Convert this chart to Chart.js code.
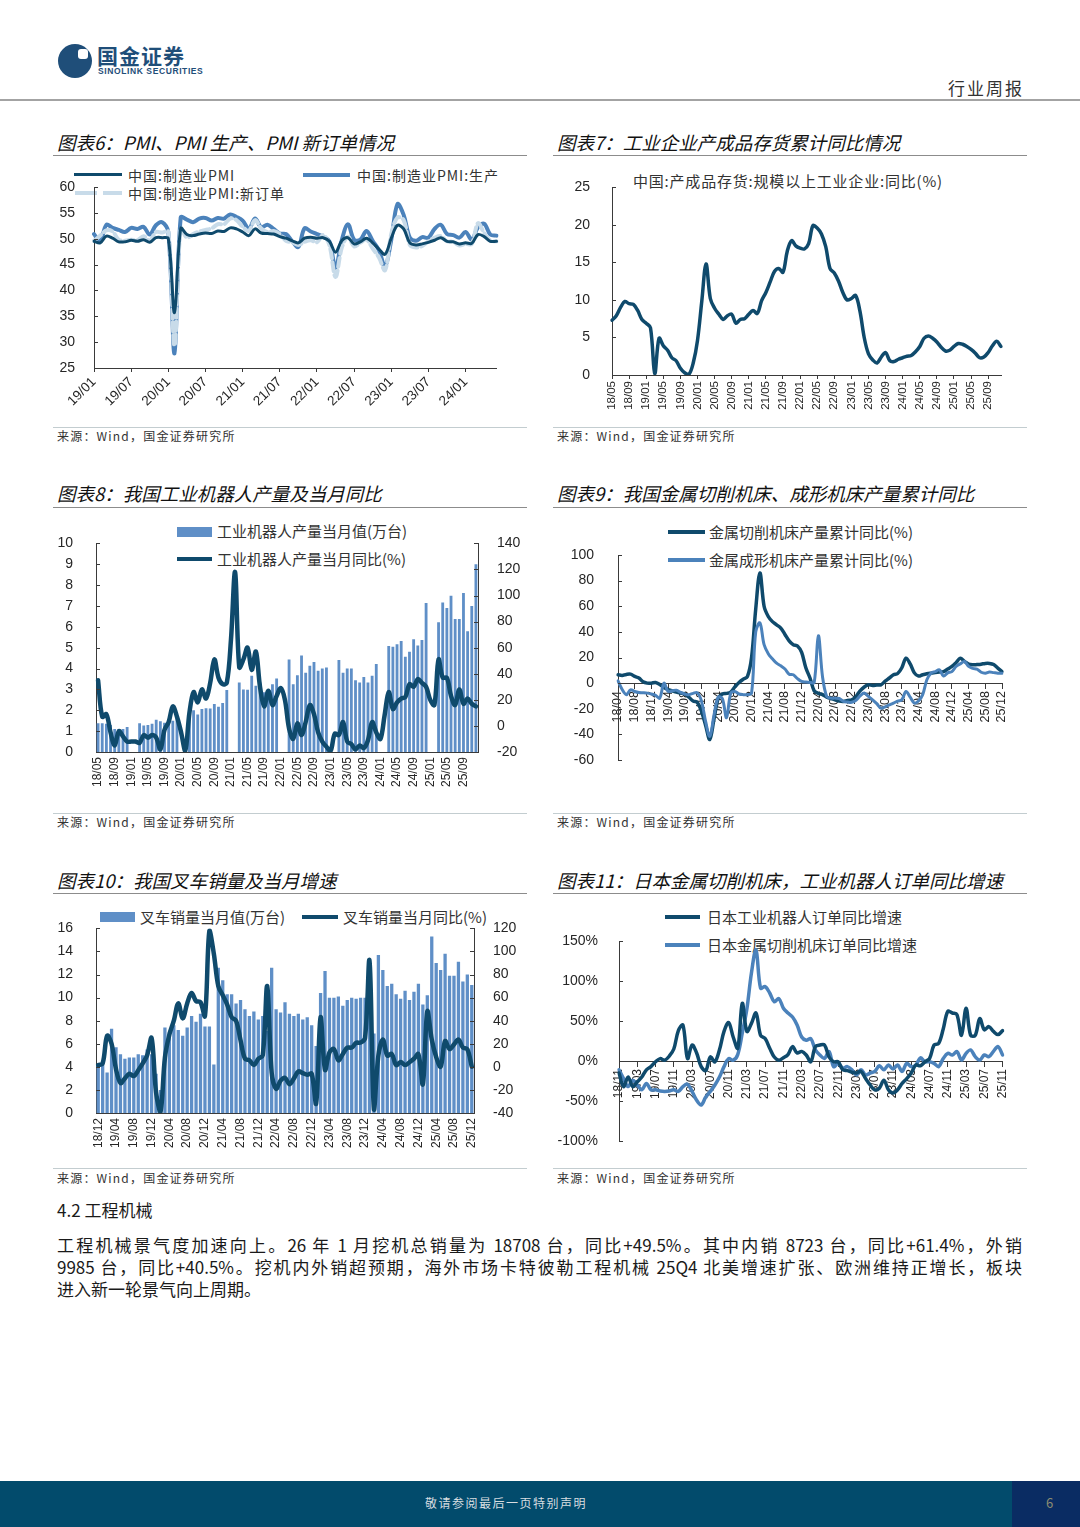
<!DOCTYPE html>
<html lang="zh-CN">
<head>
<meta charset="utf-8">
<title>行业周报</title>
<script src="https://cdn.jsdelivr.net/npm/chart.js@4.4.1/dist/chart.umd.min.js"></script>
<style>
  html, body { margin: 0; padding: 0; background: #fff; }
  body { width: 1080px; height: 1527px; position: relative; overflow: hidden;
         font-family: "Noto Sans CJK SC", "Noto Sans", sans-serif; color: #222; }
  .abs { position: absolute; white-space: nowrap; }
  canvas { position: absolute; }
  .title { font-size: 18.5px; font-style: italic; line-height: 22px; color: #111; }
  .rule { position: absolute; height: 0; width: 474px; border-top: 1.5px solid #8c8c8c; }
  .src-rule { position: absolute; height: 0; width: 474px; border-top: 1px solid #c3cdd0; }
  .src { font-size: 12px; line-height: 14px; color: #333; letter-spacing: 1.2px; }
  .lg { font-size: 15px; line-height: 18px; color: #333; }
  .sw { position: absolute; }
  .para { position: absolute; left: 57px; width: 965px; font-size: 17px; line-height: 22px; color: #1a1a1a; white-space: nowrap; }
  .just { text-align: justify; text-align-last: justify; white-space: normal; }
</style>
</head>
<body>

<!-- header -->
<div class="abs" style="left:58px;top:44px;width:34px;height:34px;border-radius:50%;background:#1f4e79;"></div>
<div class="abs" style="left:78px;top:49px;width:10px;height:10px;border-radius:3px;background:#fff;"></div>
<div class="abs" style="left:97px;top:43px;font-size:21px;line-height:24px;font-weight:bold;color:#1f4e79;letter-spacing:1px;">国金证券</div>
<div class="abs" style="left:98px;top:66px;font-family:'Liberation Sans',Arial,sans-serif;font-size:8.5px;line-height:10px;font-weight:bold;color:#1f4e79;letter-spacing:0.6px;">SINOLINK SECURITIES</div>
<div class="abs" style="left:948px;top:78px;font-size:17px;line-height:20px;letter-spacing:2px;color:#333;">行业周报</div>
<div class="abs" style="left:0;top:99px;width:1080px;height:2px;background:#a3a3a3;"></div>

<!-- titles -->
<div class="abs title" style="left:57px;top:131px;">图表6：PMI、PMI 生产、PMI 新订单情况</div>
<div class="abs title" style="left:557px;top:131px;">图表7：工业企业产成品存货累计同比情况</div>
<div class="rule" style="left:53px;top:155px;"></div>
<div class="rule" style="left:553px;top:155px;"></div>

<div class="abs title" style="left:57px;top:482px;">图表8：我国工业机器人产量及当月同比</div>
<div class="abs title" style="left:557px;top:482px;">图表9：我国金属切削机床、成形机床产量累计同比</div>
<div class="rule" style="left:53px;top:507px;"></div>
<div class="rule" style="left:553px;top:507px;"></div>

<div class="abs title" style="left:57px;top:869px;">图表10：我国叉车销量及当月增速</div>
<div class="abs title" style="left:557px;top:869px;">图表11：日本金属切削机床，工业机器人订单同比增速</div>
<div class="rule" style="left:53px;top:893px;"></div>
<div class="rule" style="left:553px;top:893px;"></div>

<!-- sources -->
<div class="src-rule" style="left:53px;top:427px;"></div>
<div class="src-rule" style="left:553px;top:427px;"></div>
<div class="abs src" style="left:57px;top:429px;">来源：Wind，国金证券研究所</div>
<div class="abs src" style="left:557px;top:429px;">来源：Wind，国金证券研究所</div>
<div class="src-rule" style="left:53px;top:813px;"></div>
<div class="src-rule" style="left:553px;top:813px;"></div>
<div class="abs src" style="left:57px;top:815px;">来源：Wind，国金证券研究所</div>
<div class="abs src" style="left:557px;top:815px;">来源：Wind，国金证券研究所</div>
<div class="src-rule" style="left:53px;top:1168px;"></div>
<div class="src-rule" style="left:553px;top:1168px;"></div>
<div class="abs src" style="left:57px;top:1171px;">来源：Wind，国金证券研究所</div>
<div class="abs src" style="left:557px;top:1171px;">来源：Wind，国金证券研究所</div>

<!-- legends (under the canvases, lines pass over them) -->
<div class="sw" style="left:74px;top:173px;width:48px;height:3px;background:#0f4a6c;"></div>
<div class="abs lg" style="left:128px;top:166px;font-size:14px;letter-spacing:1px;">中国:制造业PMI</div>
<div class="sw" style="left:303px;top:173px;width:47px;height:4px;background:#4b82bb;"></div>
<div class="abs lg" style="left:357px;top:166px;font-size:14px;letter-spacing:1px;">中国:制造业PMI:生产</div>
<div class="sw" style="left:75px;top:191px;width:47px;height:4px;background:repeating-linear-gradient(90deg,#c8dbe9 0 22px,transparent 22px 28px);"></div>
<div class="abs lg" style="left:128px;top:184px;font-size:14px;letter-spacing:1px;">中国:制造业PMI:新订单</div>

<div class="abs lg" style="left:633px;top:172px;letter-spacing:0.8px;">中国:产成品存货:规模以上工业企业:同比(%)</div>

<div class="sw" style="left:177px;top:527px;width:35px;height:10px;background:#5f8fc7;"></div>
<div class="abs lg" style="left:217px;top:522px;">工业机器人产量当月值(万台)</div>
<div class="sw" style="left:177px;top:557px;width:35px;height:4px;background:#0f4a6c;"></div>
<div class="abs lg" style="left:217px;top:550px;">工业机器人产量当月同比(%)</div>

<div class="sw" style="left:668px;top:530px;width:37px;height:4px;background:#0f4a6c;"></div>
<div class="abs lg" style="left:709px;top:523px;">金属切削机床产量累计同比(%)</div>
<div class="sw" style="left:668px;top:558px;width:37px;height:4px;background:#4b82bb;"></div>
<div class="abs lg" style="left:709px;top:551px;">金属成形机床产量累计同比(%)</div>

<div class="sw" style="left:100px;top:912px;width:35px;height:10px;background:#5f8fc7;"></div>
<div class="abs lg" style="left:140px;top:908px;">叉车销量当月值(万台)</div>
<div class="sw" style="left:302px;top:915px;width:36px;height:4px;background:#0f4a6c;"></div>
<div class="abs lg" style="left:343px;top:908px;">叉车销量当月同比(%)</div>

<div class="sw" style="left:665px;top:915px;width:35px;height:4px;background:#0f4a6c;"></div>
<div class="abs lg" style="left:707px;top:908px;">日本工业机器人订单同比增速</div>
<div class="sw" style="left:665px;top:943px;width:35px;height:4px;background:#4b82bb;"></div>
<div class="abs lg" style="left:707px;top:936px;">日本金属切削机床订单同比增速</div>

<!-- charts -->
<canvas id="c6" width="460" height="257" style="left:50px;top:165px;"></canvas>
<canvas id="c7" width="470" height="257" style="left:550px;top:165px;"></canvas>
<canvas id="c8" width="470" height="290" style="left:50px;top:520px;"></canvas>
<canvas id="c9" width="470" height="290" style="left:550px;top:520px;"></canvas>
<canvas id="c10" width="470" height="262" style="left:50px;top:905px;"></canvas>
<canvas id="c11" width="470" height="262" style="left:550px;top:905px;"></canvas>

<!-- text section -->
<div class="abs" style="left:57px;top:1199px;font-size:17px;line-height:22px;color:#1a1a1a;">4.2 工程机械</div>
<div class="para just" style="top:1234px;">工程机械景气度加速向上。26 年 1 月挖机总销量为 18708 台，同比+49.5%。其中内销 8723 台，同比+61.4%，外销</div>
<div class="para just" style="top:1256px;">9985 台，同比+40.5%。挖机内外销超预期，海外市场卡特彼勒工程机械 25Q4 北美增速扩张、欧洲维持正增长，板块</div>
<div class="para" style="top:1278px;">进入新一轮景气向上周期。</div>

<!-- footer -->
<div class="abs" style="left:0;top:1481px;width:1080px;height:46px;background:#024b6c;"></div>
<div class="abs" style="left:1012px;top:1481px;width:68px;height:46px;background:#0a2c63;"></div>
<div class="abs" style="left:0;top:1494px;width:1012px;text-align:center;font-size:12px;line-height:18px;letter-spacing:1.5px;color:#d8dde0;">敬请参阅最后一页特别声明</div>
<div class="abs" style="left:1046px;top:1494px;font-size:13px;line-height:18px;color:#8c8c72;">6</div>

<script>
// ---------- data ----------
// 图表6 PMI (19/01 - 24/06)
const pmiTicks = ['19/01','19/07','20/01','20/07','21/01','21/07','22/01','22/07','23/01','23/07','24/01'];
const pmiMain = [49.5,49.2,50.5,50.1,49.4,49.4,49.7,49.5,49.8,49.3,50.2,50.2,
  50.0,35.7,52.0,50.8,50.6,50.9,51.1,51.0,51.5,51.4,52.1,51.9,
  51.3,50.6,51.9,51.1,51.0,50.9,50.4,50.1,49.6,49.2,50.1,50.3,
  50.1,50.2,49.5,47.4,49.6,50.2,49.0,49.4,50.1,49.2,48.0,47.0,
  50.1,52.6,51.9,49.2,48.8,49.0,49.3,49.7,50.2,49.5,49.4,49.0,
  49.2,49.1,50.8,50.4,49.5,49.5];
const pmiOutput = [50.9,49.5,52.7,52.1,51.7,51.3,52.1,51.9,52.3,50.8,52.6,53.2,
  51.3,27.8,54.1,53.7,53.2,53.9,54.0,53.5,54.0,53.9,54.7,54.2,
  53.5,51.9,53.9,52.2,52.7,51.9,51.0,50.9,49.5,48.4,52.0,51.4,
  50.9,50.4,49.5,44.4,49.7,52.8,49.8,49.8,51.5,49.6,47.8,44.6,
  49.8,56.7,54.6,50.2,49.6,50.3,50.2,51.9,52.7,50.9,50.7,50.2,
  51.3,49.8,52.2,52.9,50.8,50.6];
const pmiNewOrders = [49.6,50.6,51.6,51.4,49.8,49.6,49.8,49.7,50.5,49.6,51.3,51.2,
  51.4,29.3,52.0,50.2,50.9,51.4,51.7,52.0,52.8,52.8,53.9,53.6,
  52.3,51.5,53.6,52.0,51.3,51.5,50.9,49.6,49.3,48.8,49.4,49.7,
  49.3,50.7,48.8,42.6,48.2,50.4,48.5,49.2,49.8,48.1,46.4,43.9,
  50.9,54.1,53.6,48.8,48.3,48.6,49.5,50.2,50.5,49.5,49.4,48.7,
  49.0,49.0,53.0,51.1,49.6,49.5];

// 图表7 产成品存货同比 (18/05 - 25/12)
const invTicks = ['18/05','18/09','19/01','19/05','19/09','20/01','20/05','20/09','21/01','21/05','21/09','22/01',
  '22/05','22/09','23/01','23/05','23/09','24/01','24/05','24/09','25/01','25/05','25/09'];
const invYoy = [7.3,7.9,9.0,9.8,9.5,9.4,8.6,7.4,6.9,6.3,
  0.2,4.9,3.9,3.3,2.3,1.9,0.9,0.3,0.1,1.6,
  4.6,9.8,14.8,10.2,8.9,8.1,7.4,7.9,8.1,6.9,
  7.4,7.5,8.1,8.6,8.2,9.9,11.0,12.4,13.8,14.2,
  13.7,16.5,17.9,17.2,16.9,16.8,17.5,19.9,19.6,18.8,
  17.1,14.2,13.6,12.5,11.0,10.0,10.2,10.6,8.5,5.0,
  2.8,2.0,1.6,2.4,3.0,1.9,1.8,2.1,2.3,2.5,
  2.6,3.1,3.8,4.9,5.2,4.9,4.4,3.7,3.2,3.3,
  3.8,4.2,4.1,3.8,3.4,2.9,2.3,2.4,3.0,3.9,
  4.5,3.8];

// 图表8 工业机器人 (18/05 - 25/12)
const robotTicks = invTicks;
const robotOutput = [1.38,1.38,1.36,1.3,1.1,1.1,1.1,1.2,null,null,
  1.38,1.27,1.3,1.35,1.55,1.48,1.4,1.42,1.5,1.62,null,null,
  1.8,2.0,1.8,2.06,2.1,2.08,2.3,2.17,2.35,2.97,null,null,
  3.33,3.0,2.98,3.65,3.17,3.33,2.86,2.9,3.25,3.52,null,null,
  4.44,3.25,3.68,4.63,3.8,4.13,4.32,3.9,4.0,4.05,null,null,
  4.41,3.8,4.0,4.0,3.44,3.33,3.6,3.33,3.65,4.22,null,null,
  5.08,5.05,5.16,5.32,4.57,4.81,5.4,5.1,5.37,7.14,null,null,
  6.22,7.17,6.9,7.49,6.38,6.38,7.62,5.79,7.0,9.0];
const robotYoy = [35,7,9,-5,-15,-4,-8,-12,-12,-12,
  -13,-7,-9,-7,-9,-18,-3,3,15,7,
  -5,-19,10,26,18,28,21,33,51,37,
  32,33,66,118,45,51,60,43,57,30,
  15,27,16,23,29,20,-2,-10,2,-7,
  3,16,9,-5,-12,-16,-19,-6,-7,3,
  -12,-14,-18,-15,-17,-11,3,-5,-10,8,
  26,13,18,21,22,32,30,36,33,30,
  20,16,51,37,37,23,16,28,17,21,
  17,15];

// 图表9 金属切削/成形机床累计同比 (18/04 - 25/12)
const toolTicks = ['18/04','18/08','18/12','19/04','19/08','19/12','20/04','20/08','20/12','21/04','21/08','21/12',
  '22/04','22/08','22/12','23/04','23/08','23/12','24/04','24/08','24/12','25/04','25/08','25/12'];
const cuttingYoy = [6.5,6,6.8,7,5.2,4,1,0,0,0.5,
  -1,-3.5,-5,-6,-7,-7.8,-8.5,-11,-14,-15,
  -22,-33,-44,-28,-12,-8.5,-8,-7,-3,0.5,
  3,5,20,58,86,60,52,48,45.5,43,
  38,33,30,29,24,12,4,-6,-8,-9,
  -11,-12,-13,-14,-14.3,-13.5,-13,-10.5,-6,-3,
  -1.3,-1.8,-1.5,-1.3,1.5,4,6.5,7.5,12,19.5,
  15,8,5.5,6.5,7.3,7.8,8.2,8.6,9,11,
  13,16,19.5,17,14.8,14.3,14.5,14.8,15.4,15.4,
  14.5,11.7,9];
const formingYoy = [1.8,-5,-9,-5.2,-6.5,-7.3,-7.5,-7.8,-8.5,-9.5,
  -11.7,0,-6.5,-6,-5.5,-7.3,-8.5,-9,-8,-7.5,
  -14,-30,-41.6,-25,-11,-12,-27,-8,-6.5,-8.5,
  -9,-9,-7.8,40,47,30,23,19,15.6,13.5,
  11,7,6.5,3.5,1.3,0.8,0.5,0.5,37,5,
  -10.4,-11.7,-11.7,-12,-14.3,-14.8,-15,-13.5,-10,-7.8,
  -10.4,-13,-16,-19.5,-18.5,-17,-15.6,-14,-13,-6.5,
  -11,-15.6,-14,-9,2.6,7.8,9,10.4,5.5,8,
  9,13,15,16.9,13,11.5,10.9,8.5,7.8,8.6,
  8.2,7.8,7.8];

// 图表10 叉车 (18/12 - 25/12)
const forkTicks = ['18/12','19/04','19/08','19/12','20/04','20/08','20/12','21/04','21/08','21/12','22/04','22/08',
  '22/12','23/04','23/08','23/12','24/04','24/08','24/12','25/04','25/08','25/12'];
const forkSales = [4.1,4.2,3.5,7.3,5.7,5.1,4.7,4.8,4.8,5.1,
  5.0,5.5,5.1,3.4,2.0,7.4,7.0,7.6,7.2,6.7,
  7.4,8.4,7.9,8.6,7.5,7.5,4.2,12.6,11.5,10.3,
  10.3,9.5,9.8,9.0,8.4,8.8,8.1,8.4,7.1,12.6,
  9.0,8.7,9.6,8.6,8.4,8.6,8.1,8.3,7.6,5.8,
  10.4,12.3,10.0,10.0,10.1,9.3,9.8,10.0,9.9,10.0,
  10.0,11.1,6.9,13.7,12.4,11.0,11.2,10.3,9.9,10.6,
  9.8,10.5,11.2,9.4,10.2,15.3,13.0,12.4,13.8,11.9,
  11.9,13.1,11.4,12.0,11.1];
const forkYoy = [1.5,3,27,20,-2,-14,-10,-6,-8,-3,
  3,10,25,-22,-39,8,28,40,55,42,
  55,64,57,56,44,118,98,70,62,54,
  43,40,23,7,5.7,1.5,7,10,70,-5,
  -19,-12,-9.5,-15,-10,-4,-5.4,-6.8,-6,-31.7,
  43,-2.6,12.6,15.4,5.7,11.2,16.7,16.7,20.9,21,
  25,92,-37,9.8,23.7,9.8,11.2,1.5,4.3,1.5,
  4,7,11,-15,48,23.7,8.4,0.1,22.3,15.4,
  19.5,23.7,16.7,15.4,0.1];

// 图表11 日本订单同比 (18/11 - 25/11)
const japanTicks = ['18/11','19/03','19/07','19/11','20/03','20/07','20/11','21/03','21/07','21/11','22/03','22/07',
  '22/11','23/03','23/07','23/11','24/03','24/07','24/11','25/03','25/07','25/11'];
const jpRobotYoy = [-15,-32,-20,-32,-26,-20,-11,-7,-1,3,
  1,6,15,38,45,3,20,10,-7,-12,
  5,-1,14,37,48,30,16,72,37,47,
  60,32,28,16,5,1,4,8,18,10,
  12,7.5,-1,18,20,20,5,-1,-1,-11,
  -12,-14,-15,-13,-22,-30,-36,-34,-24,-36,
  -40,-36,-28,-22,-15,-5,-6,-1,3,20,
  22,40,62,60,58,32,66,32,32,53,
  39,43,37,33,38];
const jpToolYoy = [-11,-22,-32,-24,-30,-36,-28,-36,-36,-37.5,
  -38,-37.5,-36,-38,-32,-29,-38,-49,-55,-45,
  -38,-30,-20,-7,3,1,8,35,65,110,
  139,91,93,85,74,78,66,60,55,45,
  30,26,28,14,7.5,3.3,11.7,-7,-3,-9,
  -7,-11,-17.5,-11,-17.5,-15,-13,-6,-11,-5,
  -10,-5,-13,-3,-7,-5,4,-1,-1,-3,
  -7,3,9.6,7.5,11.7,1.2,9.6,13.8,5.4,1.2,
  7.5,5.4,12,18,7.5];

// ---------- helpers ----------
const SANS = '"Liberation Sans", Arial, "Noto Sans", sans-serif';
const DARK = '#0f4a6c', MID = '#4b82bb', LIGHT = '#c8dbe9', BAR = '#5f8fc7';
const AXIS = '#3a3a3a', TXT = '#262626';

function monthLabels(start, n) {
  let [y, m] = start.split('/').map(Number);
  const out = [];
  for (let i = 0; i < n; i++) {
    out.push(String(y).padStart(2, '0') + '/' + String(m).padStart(2, '0'));
    m++;
    if (m > 12) { m = 1; y++; }
  }
  return out;
}

// small inward tick marks on the value axes
const innerTicks = {
  id: 'innerTicks',
  afterDraw(chart) {
    const ctx = chart.ctx;
    Object.values(chart.scales).forEach(s => {
      if (s.axis !== 'y') return;
      const right = s.position === 'right';
      const x0 = right ? s.left : s.right;
      const dir = right ? -1 : 1;
      ctx.save();
      ctx.strokeStyle = AXIS;
      ctx.lineWidth = 1;
      s.ticks.forEach(t => {
        const y = Math.round(s.getPixelForValue(t.value)) + 0.5;
        ctx.beginPath();
        ctx.moveTo(x0, y);
        ctx.lineTo(x0 + dir * 4, y);
        ctx.stroke();
      });
      ctx.restore();
    });
  }
};

function xCat(labels, shown, o) {
  return {
    type: 'category',
    offset: o.offset,
    position: o.position || 'bottom',
    border: { display: true, color: AXIS, width: 1 },
    grid: {
      offset: false, drawOnChartArea: false, drawTicks: true, tickLength: o.tick || 4,
      color: c => shown.includes(labels[c.index]) ? AXIS : 'rgba(0,0,0,0)'
    },
    ticks: {
      autoSkip: false, minRotation: o.rot, maxRotation: o.rot, padding: o.pad || 2,
      color: TXT, font: { family: SANS, size: o.size || 12 },
      callback: (v, i) => shown.includes(labels[i]) ? labels[i] : ''
    },
    afterFit: s => { if (o.h) s.height = o.h; }
  };
}

function yLin(o) {
  return {
    type: 'linear',
    position: o.position || 'left',
    min: o.min, max: o.max,
    border: { display: true, color: AXIS, width: 1 },
    grid: { display: false },
    ticks: {
      stepSize: o.step, padding: o.pad, color: TXT,
      font: { family: SANS, size: 14 },
      callback: o.cb || (v => v)
    },
    afterFit: s => { s.width = o.w; }
  };
}

function opts(pad, scales) {
  return {
    responsive: false,
    animation: false,
    layout: { padding: Object.assign({ top: 0, right: 0, bottom: 0, left: 0 }, pad), autoPadding: false },
    elements: {
      point: { radius: 0, hoverRadius: 0 },
      line: { tension: 0.35, borderCapStyle: 'round', borderJoinStyle: 'round' }
    },
    plugins: { legend: { display: false }, tooltip: { enabled: false } },
    scales
  };
}

// ---------- 图表6 ----------
const pmiMonths = monthLabels('19/01', pmiMain.length);
new Chart(document.getElementById('c6'), {
  type: 'line',
  data: {
    labels: pmiMonths,
    datasets: [
      { label: '中国:制造业PMI', data: pmiMain, borderColor: DARK, borderWidth: 3, order: 1 },
      { label: '中国:制造业PMI:新订单', data: pmiNewOrders, borderColor: LIGHT, borderWidth: 4, borderDash: [9, 4], order: 2 },
      { label: '中国:制造业PMI:生产', data: pmiOutput, borderColor: MID, borderWidth: 4, order: 3 }
    ]
  },
  options: opts({ top: 22, right: 10 }, {
    x: xCat(pmiMonths, pmiTicks, { offset: false, rot: 45, size: 13.5, h: 54 }),
    y: yLin({ min: 25, max: 60, step: 5, w: 44, pad: 11 })
  }),
  plugins: [innerTicks]
});

// ---------- 图表7 ----------
const invMonths = monthLabels('18/05', invYoy.length);
new Chart(document.getElementById('c7'), {
  type: 'line',
  data: {
    labels: invMonths,
    datasets: [
      { label: '中国:产成品存货:规模以上工业企业:同比(%)', data: invYoy, borderColor: DARK, borderWidth: 3.5 }
    ]
  },
  options: opts({ top: 16, right: 19 }, {
    x: xCat(invMonths, invTicks, { offset: false, rot: 90, size: 11.5, h: 47, pad: 2 }),
    y: yLin({ min: 0, max: 25, step: 5, w: 62, pad: 14 })
  }),
  plugins: [innerTicks]
});

// ---------- 图表8 ----------
const robotMonths = monthLabels('18/05', robotOutput.length);
new Chart(document.getElementById('c8'), {
  type: 'bar',
  data: {
    labels: robotMonths,
    datasets: [
      { type: 'line', label: '工业机器人产量当月同比(%)', data: robotYoy, yAxisID: 'y1',
        borderColor: DARK, borderWidth: 4.5, order: 1 },
      { type: 'bar', label: '工业机器人产量当月值(万台)', data: robotOutput, yAxisID: 'y',
        backgroundColor: BAR, barPercentage: 0.68, categoryPercentage: 1, order: 2 }
    ]
  },
  options: opts({ top: 22 }, {
    x: xCat(robotMonths, robotTicks, { offset: true, rot: 90, size: 12, h: 58, tick: 1, pad: 4 }),
    y: yLin({ min: 0, max: 10, step: 1, w: 46, pad: 15 }),
    y1: yLin({ position: 'right', min: -20, max: 140, step: 20, w: 42, pad: 11 })
  }),
  plugins: [innerTicks]
});

// ---------- 图表9 ----------
const toolMonths = monthLabels('18/04', cuttingYoy.length);
new Chart(document.getElementById('c9'), {
  type: 'line',
  data: {
    labels: toolMonths,
    datasets: [
      { label: '金属切削机床产量累计同比(%)', data: cuttingYoy, borderColor: DARK, borderWidth: 3.5, order: 2 },
      { label: '金属成形机床产量累计同比(%)', data: formingYoy, borderColor: MID, borderWidth: 3, order: 1 }
    ]
  },
  options: opts({ top: 35, right: 15, bottom: 50 }, {
    x: xCat(toolMonths, toolTicks, { offset: false, position: { y: 0 }, rot: 90, size: 12.5, tick: 5, pad: 3 }),
    y: yLin({ min: -60, max: 100, step: 20, w: 68, pad: 16 })
  }),
  plugins: [innerTicks]
});

// ---------- 图表10 ----------
const forkMonths = monthLabels('18/12', forkSales.length);
new Chart(document.getElementById('c10'), {
  type: 'bar',
  data: {
    labels: forkMonths,
    datasets: [
      { type: 'line', label: '叉车销量当月同比(%)', data: forkYoy, yAxisID: 'y1',
        borderColor: DARK, borderWidth: 4.5, order: 1 },
      { type: 'bar', label: '叉车销量当月值(万台)', data: forkSales, yAxisID: 'y',
        backgroundColor: BAR, barPercentage: 0.74, categoryPercentage: 1, order: 2 }
    ]
  },
  options: opts({ top: 16 }, {
    x: xCat(forkMonths, forkTicks, { offset: true, rot: 90, size: 12, h: 54, tick: 1, pad: 4 }),
    y: yLin({ min: 0, max: 16, step: 2, w: 46, pad: 15 }),
    y1: yLin({ position: 'right', min: -40, max: 120, step: 20, w: 46, pad: 11 })
  }),
  plugins: [innerTicks]
});

// ---------- 图表11 ----------
const japanMonths = monthLabels('18/11', jpRobotYoy.length);
new Chart(document.getElementById('c11'), {
  type: 'line',
  data: {
    labels: japanMonths,
    datasets: [
      { label: '日本工业机器人订单同比增速', data: jpRobotYoy, borderColor: DARK, borderWidth: 3.5, order: 1 },
      { label: '日本金属切削机床订单同比增速', data: jpToolYoy, borderColor: MID, borderWidth: 3.5, order: 2 }
    ]
  },
  options: opts({ top: 36, right: 14, bottom: 26 }, {
    x: xCat(japanMonths, japanTicks, { offset: false, position: { y: 0 }, rot: 90, size: 12, tick: 5, pad: 3 }),
    y: yLin({ min: -100, max: 150, step: 50, w: 69, pad: 13, cb: v => v + '%' })
  }),
  plugins: [innerTicks]
});
</script>
</body>
</html>
